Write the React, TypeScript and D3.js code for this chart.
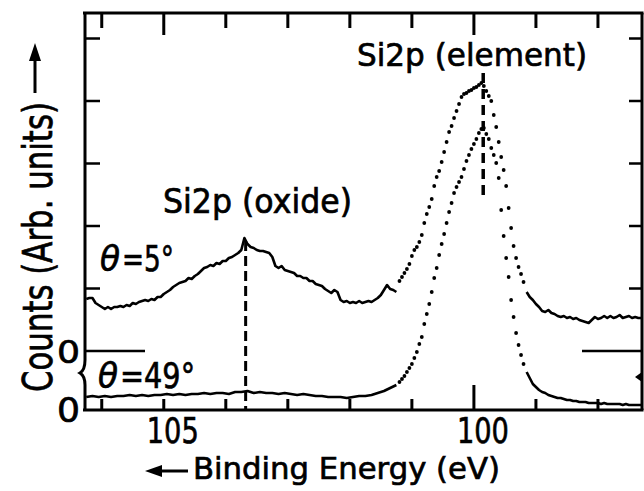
import React from 'react';
import * as d3 from 'd3';

const W = 644;
const H = 491;

// Binding energy (eV), counts (arb. units) — theta = 5 deg spectrum
const upperLeft: [number, number][] = [
  [106.25,104],[106.2,106],[106.15,106],[106.1,96],[106.05,92],[106.0,88],[105.95,84],[105.9,88],[105.85,84],[105.8,88],
  [105.75,88],[105.7,90],[105.65,88],[105.6,92],[105.55,90],[105.5,96],[105.45,94],[105.4,98],[105.35,100],[105.3,102],
  [105.25,100],[105.2,104],[105.15,102],[105.1,108],[105.05,108],[105.0,114],[104.95,118],[104.9,122],[104.85,128],[104.8,132],
  [104.75,136],[104.7,138],[104.65,140],[104.6,146],[104.55,144],[104.5,150],[104.45,154],[104.4,160],[104.35,166],[104.3,168],
  [104.25,172],[104.2,170],[104.15,176],[104.1,174],[104.05,180],[104.0,180],[103.95,186],[103.9,188],[103.85,192],[103.8,196],
  [103.75,202],[103.7,226],[103.65,214],[103.6,208],[103.55,206],[103.5,202],[103.45,200],[103.4,200],[103.35,198],[103.3,196],
  [103.25,188],[103.2,170],[103.15,166],[103.1,170],[103.05,162],[103.0,160],[102.95,158],[102.9,156],[102.85,150],[102.8,150],
  [102.75,146],[102.7,146],[102.65,140],[102.6,140],[102.55,134],[102.5,132],[102.45,130],[102.4,124],[102.35,120],[102.3,116],
  [102.25,122],[102.2,118],[102.15,102],[102.1,98],[102.05,100],[102.0,96],[101.95,98],[101.9,96],[101.85,100],[101.8,96],
  [101.75,98],[101.7,100],[101.65,98],[101.6,102],[101.55,106],[101.5,112],[101.45,122],[101.4,132],[101.35,124],[101.3,122],
  [101.25,118],
];

const upperPeakDots: [number, number][] = [
  [101.2,140],[101.16,148],[101.12,156],[101.08,164],[101.04,174],[101.0,190],[100.96,202],[100.92,208],[100.88,218],[100.84,232],
  [100.8,256],[100.76,274],[100.72,288],[100.68,304],[100.64,330],[100.6,348],[100.56,360],[100.52,378],[100.48,398],[100.44,418],
  [100.4,438],[100.36,450],[100.32,466],[100.28,480],[100.24,494],[100.2,508],[100.16,514],[100.12,516],[100.08,520],[100.04,522],
  [100.0,526],[99.96,528],[99.92,532],[99.88,536],[99.84,530],[99.8,520],[99.76,510],[99.72,500],[99.68,472],[99.64,448],
  [99.6,418],[99.56,388],[99.52,362],[99.48,330],[99.44,286],[99.4,246],[99.36,210],[99.32,186],[99.28,168],[99.24,154],
  [99.2,138],
];

const upperRight: [number, number][] = [
  [99.15,118],[99.1,108],[99.05,102],[99.0,94],[98.95,88],[98.9,80],[98.85,78],[98.8,82],[98.75,76],[98.7,74],
  [98.65,70],[98.6,68],[98.55,70],[98.5,66],[98.45,68],[98.4,64],[98.35,66],[98.3,62],[98.25,60],[98.2,58],
  [98.15,56],[98.1,62],[98.05,68],[98.0,64],[97.95,66],[97.9,70],[97.85,66],[97.8,70],[97.75,66],[97.7,68],
  [97.65,72],[97.6,66],[97.55,68],[97.5,70],[97.45,66],[97.4,68],[97.35,66],[97.3,66],
];

// theta = 49 deg spectrum
const lowerLeft: [number, number][] = [
  [106.25,26],[106.15,28],[106.05,26],[105.95,28],[105.85,26],[105.75,28],[105.65,28],[105.55,30],[105.45,28],[105.35,30],
  [105.25,28],[105.15,30],[105.05,30],[104.95,32],[104.85,30],[104.75,32],[104.65,30],[104.55,32],[104.45,32],[104.35,34],
  [104.25,32],[104.15,34],[104.05,34],[103.95,32],[103.85,36],[103.75,36],[103.65,38],[103.55,34],[103.45,36],[103.35,34],
  [103.25,34],[103.15,32],[103.05,34],[102.95,32],[102.85,30],[102.75,32],[102.65,30],[102.55,28],[102.45,28],[102.35,26],
  [102.25,26],[102.15,26],[102.05,24],[101.95,26],[101.85,28],[101.75,28],[101.65,30],[101.55,34],[101.45,38],[101.35,44],
  [101.25,50],
];

const lowerPeakDots: [number, number][] = [
  [101.2,56],[101.16,62],[101.12,68],[101.08,76],[101.04,84],[101.0,92],[100.96,104],[100.92,116],[100.88,132],[100.84,146],
  [100.8,172],[100.76,192],[100.72,212],[100.68,236],[100.64,264],[100.6,284],[100.56,310],[100.52,332],[100.48,352],[100.44,374],
  [100.4,396],[100.36,414],[100.32,434],[100.28,446],[100.24,456],[100.2,466],[100.16,482],[100.12,498],[100.08,510],[100.04,522],
  [100.0,532],[99.96,542],[99.92,554],[99.88,562],[99.84,564],[99.8,552],[99.76,542],[99.72,524],[99.68,510],[99.64,494],
  [99.6,464],[99.56,400],[99.52,348],[99.48,304],[99.44,266],[99.4,220],[99.36,186],[99.32,154],[99.28,130],[99.24,110],
  [99.2,92],
];

const lowerRight: [number, number][] = [
  [99.15,76],[99.1,64],[99.05,52],[99.0,46],[98.95,40],[98.9,36],[98.85,34],[98.8,30],[98.75,28],[98.7,26],
  [98.65,24],[98.6,24],[98.55,22],[98.5,20],[98.45,20],[98.4,18],[98.35,18],[98.3,16],[98.25,16],[98.2,16],
  [98.15,14],[98.1,14],[98.05,14],[98.0,14],[97.95,12],[97.9,14],[97.85,12],[97.8,12],[97.75,12],[97.7,12],
  [97.65,12],[97.6,10],[97.55,12],[97.5,10],[97.45,10],[97.4,10],[97.35,10],[97.3,10],
];

const energyTicks = [106, 105, 104, 103, 102, 101, 100, 99, 98];
const labelledEnergies = [105, 100];
const countTicks = [125, 250, 375, 500, 625];
const oxidePeak = 103.68;
const elementPeak = 99.85;

const FONT = "'DejaVu Sans', sans-serif";
const TS = { stroke: '#000', strokeWidth: 0.7 };

export default function App() {
  const x = d3.scaleLinear().domain([106.27, 97.29]).range([85, 642]);
  const yU = d3.scaleLinear().domain([0, 676]).range([351, 13]);
  const yL = d3.scaleLinear().domain([0, 794]).range([410, 13]);

  const lineU = d3.line<[number, number]>().x((d) => x(d[0])).y((d) => yU(d[1]));
  const lineL = d3.line<[number, number]>().x((d) => x(d[0])).y((d) => yL(d[1]));

  const top = yU.range()[1];
  const bottom = yL.range()[0];
  const left = x.range()[0];
  const right = x.range()[1];

  const stroke = '#000';

  return (
    <svg
      width={W}
      height={H}
      style={{ position: 'absolute', left: 0, top: 0, background: '#fff' }}
      fontFamily={FONT}
    >
      <rect x={0} y={0} width={W} height={H} fill="#fff" />

      {/* frame */}
      <path d={`M${left - 2},${top} H${right + 1.5}`} stroke={stroke} strokeWidth={3} fill="none" />
      <path d={`M${left - 2},${bottom} H${right + 1.5}`} stroke={stroke} strokeWidth={3} fill="none" />
      <path
        d={`M${left},${top} V${yU(0) + 9} Q${left},${yU(0) + 19} ${left - 5},${yU(0) + 22} Q${left},${yU(0) + 25} ${left},${yU(0) + 34} V${bottom}`}
        stroke={stroke}
        strokeWidth={3}
        fill="none"
      />
      <path d={`M${right},${top} V${bottom}`} stroke={stroke} strokeWidth={3} fill="none" />
      <path
        d={`M${right - 7},${yU(0) + 26} L${right},${yU(0) + 21} L${right},${yU(0) + 31} Z`}
        fill={stroke}
      />

      {/* energy ticks */}
      {energyTicks.map((e) => {
        const major = labelledEnergies.includes(e);
        return (
          <g key={'t' + e}>
            <line x1={x(e)} x2={x(e)} y1={top} y2={top + (major ? 22 : 15)} stroke={stroke} strokeWidth={3} />
            <line x1={x(e)} x2={x(e)} y1={bottom} y2={bottom - (e === 100 ? 25 : 11)} stroke={stroke} strokeWidth={3} />
          </g>
        );
      })}

      {/* count ticks */}
      {countTicks.map((c) => (
        <g key={'c' + c}>
          <line x1={left} x2={left + 15} y1={yU(c)} y2={yU(c)} stroke={stroke} strokeWidth={2.5} />
          <line x1={right} x2={right - 13} y1={yU(c)} y2={yU(c)} stroke={stroke} strokeWidth={2.5} />
        </g>
      ))}
      <line x1={left} x2={left + 60} y1={yU(0)} y2={yU(0)} stroke={stroke} strokeWidth={2.5} />
      <line x1={right} x2={right - 60} y1={yU(0)} y2={yU(0)} stroke={stroke} strokeWidth={2.5} />

      {/* dashed peak markers */}
      <line
        x1={x(oxidePeak)}
        x2={x(oxidePeak)}
        y1={yU(220)}
        y2={bottom}
        stroke={stroke}
        strokeWidth={3}
        strokeDasharray="10,5"
      />
      <line
        x1={x(elementPeak)}
        x2={x(elementPeak)}
        y1={73}
        y2={195}
        stroke={stroke}
        strokeWidth={3.5}
        strokeDasharray="10,6"
      />

      {/* spectra */}
      <path d={lineU(upperLeft) || ''} fill="none" stroke={stroke} strokeWidth={2.6} strokeLinejoin="round" />
      <path d={lineU(upperRight) || ''} fill="none" stroke={stroke} strokeWidth={2.6} strokeLinejoin="round" />
      {upperPeakDots.map((d, i) => (
        <circle key={'ud' + i} cx={x(d[0])} cy={yU(d[1])} r={1.9} fill={stroke} />
      ))}
      <path d={lineL(lowerLeft) || ''} fill="none" stroke={stroke} strokeWidth={2.6} strokeLinejoin="round" />
      <path d={lineL(lowerRight) || ''} fill="none" stroke={stroke} strokeWidth={2.6} strokeLinejoin="round" />
      {lowerPeakDots.map((d, i) => (
        <circle key={'ld' + i} cx={x(d[0])} cy={yL(d[1])} r={1.9} fill={stroke} />
      ))}

      {/* annotations */}
      <text x={357} y={66} fontSize={32} textLength={230} lengthAdjust="spacingAndGlyphs" {...TS}>Si2p (element)</text>
      <text x={163} y={213} fontSize={33} textLength={189} lengthAdjust="spacingAndGlyphs" {...TS}>Si2p (oxide)</text>
      <text x={100} y={271} fontSize={36} fontStyle="italic" textLength={20} lengthAdjust="spacingAndGlyphs" {...TS}>θ</text>
      <text x={122} y={271} fontSize={36} textLength={52} lengthAdjust="spacingAndGlyphs" {...TS}>=5°</text>
      <text x={98} y={388} fontSize={36} fontStyle="italic" textLength={20} lengthAdjust="spacingAndGlyphs" {...TS}>θ</text>
      <text x={120} y={388} fontSize={36} textLength={75} lengthAdjust="spacingAndGlyphs" {...TS}>=49°</text>

      {/* tick labels */}
      {labelledEnergies.map((e) => (
        <text key={'l' + e} x={x(e) - 17} y={443} fontSize={36} textLength={52} lengthAdjust="spacingAndGlyphs" {...TS}>
          {String(e)}
        </text>
      ))}
      <text x={57} y={363} fontSize={32} textLength={23} lengthAdjust="spacingAndGlyphs" {...TS}>0</text>
      <text x={57} y={422} fontSize={34} textLength={23} lengthAdjust="spacingAndGlyphs" {...TS}>0</text>

      {/* x title */}
      <line x1={158} x2={188} y1={471} y2={471} stroke={stroke} strokeWidth={3} />
      <path d="M145,471 L162,465 L162,477 Z" fill={stroke} />
      <text x={193} y={479} fontSize={31} textLength={307} lengthAdjust="spacingAndGlyphs" {...TS}>Binding Energy (eV)</text>

      {/* y title */}
      <text
        transform="translate(52,392) rotate(-90)"
        x={0}
        y={0}
        fontSize={41}
        textLength={290}
        lengthAdjust="spacingAndGlyphs"
        {...TS}
      >
        Counts (Arb. units)
      </text>
      <line x1={35} x2={35} y1={93} y2={56} stroke={stroke} strokeWidth={3} />
      <path d="M35,43 L29,61 L41,61 Z" fill={stroke} />
    </svg>
  );
}
